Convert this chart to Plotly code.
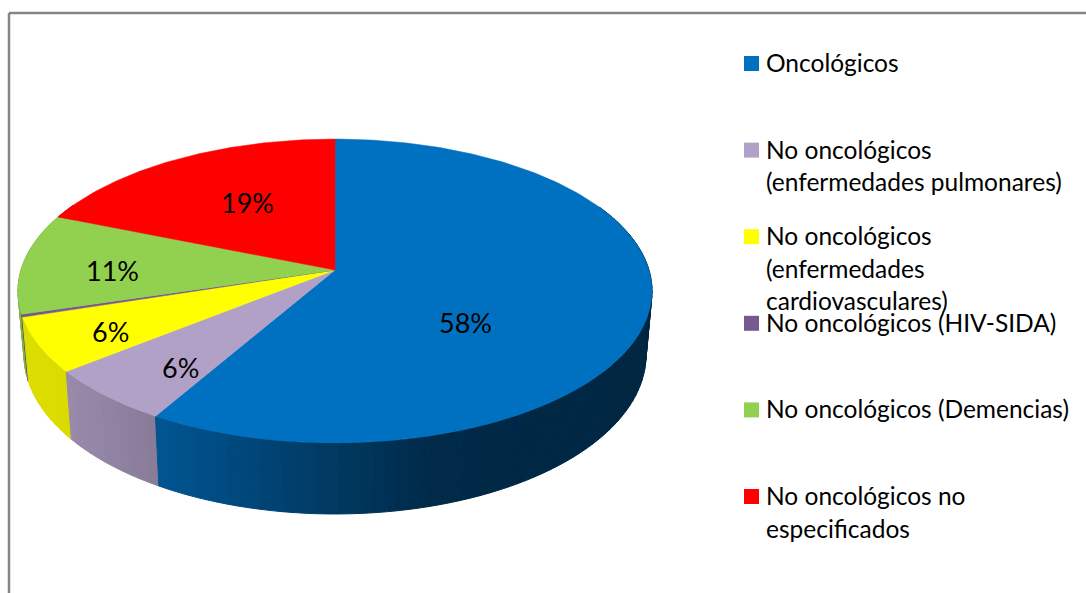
import numpy as np
import plotly.graph_objects as go

# valores del grafico (% de pacientes)
categorias = ["Oncológicos", "No oncológicos (enfermedades pulmonares)",
              "No oncológicos (enfermedades cardiovasculares)", "No oncológicos (HIV-SIDA)",
              "No oncológicos (Demencias)", "No oncológicos no especificados"]
valores = [58.4, 5.9, 5.8, 0.3, 10.7, 18.9]
colores = ["#0070C0", "#B2A1C7", "#FFFF00", "#76598F", "#92D050", "#FF0000"]

# lineas de la leyenda, tal como las parte el original
leyenda_lineas = [["Oncológicos"],
                  ["No oncológicos", "(enfermedades pulmonares)"],
                  ["No oncológicos", "(enfermedades", "cardiovasculares)"],
                  ["No oncológicos (HIV-SIDA)"],
                  ["No oncológicos (Demencias)"],
                  ["No oncológicos no", "especificados"]]

# posicion de las etiquetas de porcentaje, en pixeles
etiqueta_x = [465, 180, 110, None, 112, 247]
etiqueta_y = [322, 367, 331, None, 270, 202]

# proyeccion del disco
CX, CY, R, B, K = 335, 270, 314, 149, 0.138
CX2, CY2, R2, B2 = 335, 333, 308, 156
FUENTE = "Lato"


def proyecta(frac, cx, cy, r, b):
    ang = 2 * np.pi * np.asarray(frac)
    u, v = np.sin(ang), -np.cos(ang)
    w = 1 - K * v
    return cx + r * u / w, cy + b * v / w, v


def sombra(x):
    return np.interp(x, [20, 70, 155, 330, 430, 652], [0.87, 0.86, 0.77, 0.52, 0.38, 0.34])


def oscurece(color, f):
    rgb = [int(color[i:i + 2], 16) for i in (1, 3, 5)]
    return "rgb(%d,%d,%d)" % tuple(int(c * f) for c in rgb)


fig = go.Figure()
limites = np.cumsum([0] + valores) / sum(valores)

# costado del disco: tiras verticales, de atras hacia adelante
tiras = []
for i, color in enumerate(colores):
    n = max(2, int(valores[i] * 2))
    bordes = np.linspace(limites[i], limites[i + 1], n + 1)
    for a, b in zip(bordes[:-1], bordes[1:]):
        xa, ya, va = proyecta([a, b], CX, CY, R, B)
        xb, yb, _ = proyecta([b, a], CX2, CY2, R2, B2)
        if va.mean() > -0.45:
            xs = list(xa) + list(xb) + [xa[0]]
            ys = list(ya) + list(yb) + [ya[0]]
            tiras.append((va.mean(), xs, ys, color))
for v, xs, ys, color in sorted(tiras, key=lambda t: t[0]):
    c = oscurece(color, float(sombra(np.mean(xs))))
    fig.add_trace(go.Scatter(x=xs, y=ys, mode="lines", fill="toself", fillcolor=c,
                             line=dict(color=c, width=1), hoverinfo="skip", showlegend=False))

# cara superior
for i, color in enumerate(colores):
    fr = np.linspace(limites[i], limites[i + 1], max(3, int(valores[i] * 4)))
    xs, ys, _ = proyecta(fr, CX, CY, R, B)
    fig.add_trace(go.Scatter(x=[CX] + list(xs) + [CX], y=[CY] + list(ys) + [CY], mode="lines",
                             fill="toself", fillcolor=color, line=dict(color=color, width=0.5),
                             name=categorias[i], hoverinfo="skip", showlegend=False))

# etiquetas
for val, ex, ey in zip(valores, etiqueta_x, etiqueta_y):
    if ex is not None:
        fig.add_annotation(x=ex, y=ey, text="%d%%" % round(val), showarrow=False,
                           font=dict(family=FUENTE, size=27, color="black"))

# leyenda a mano porque el original solapa las lineas
for i, lineas in enumerate(leyenda_lineas):
    y0 = 63.5 + i * 86.6
    fig.add_shape(type="rect", x0=744, x1=759, y0=y0 - 7.5, y1=y0 + 7.5,
                  fillcolor=colores[i], line=dict(width=0))
    for j, texto in enumerate(lineas):
        fig.add_annotation(x=763.5, y=y0 - 1 + j * 32.5, text=texto, showarrow=False, xanchor="left",
                           font=dict(family=FUENTE, size=24.5, color="black"))

# marco del grafico
fig.add_shape(type="line", x0=9, x1=9, y0=13, y1=593, line=dict(color="#868686", width=2.5))
fig.add_shape(type="line", x0=9, x1=1086, y0=13, y1=13, line=dict(color="#868686", width=2.5))

fig.update_layout(width=1086, height=593, margin=dict(l=0, r=0, t=0, b=0),
                  paper_bgcolor="white", plot_bgcolor="white", showlegend=False,
                  xaxis=dict(range=[0, 1086], visible=False, fixedrange=True),
                  yaxis=dict(range=[593, 0], visible=False, fixedrange=True))
fig.write_html("out.html", config=dict(displayModeBar=False),
               post_script="document.body.style.margin='0';document.body.style.overflow='hidden';")
